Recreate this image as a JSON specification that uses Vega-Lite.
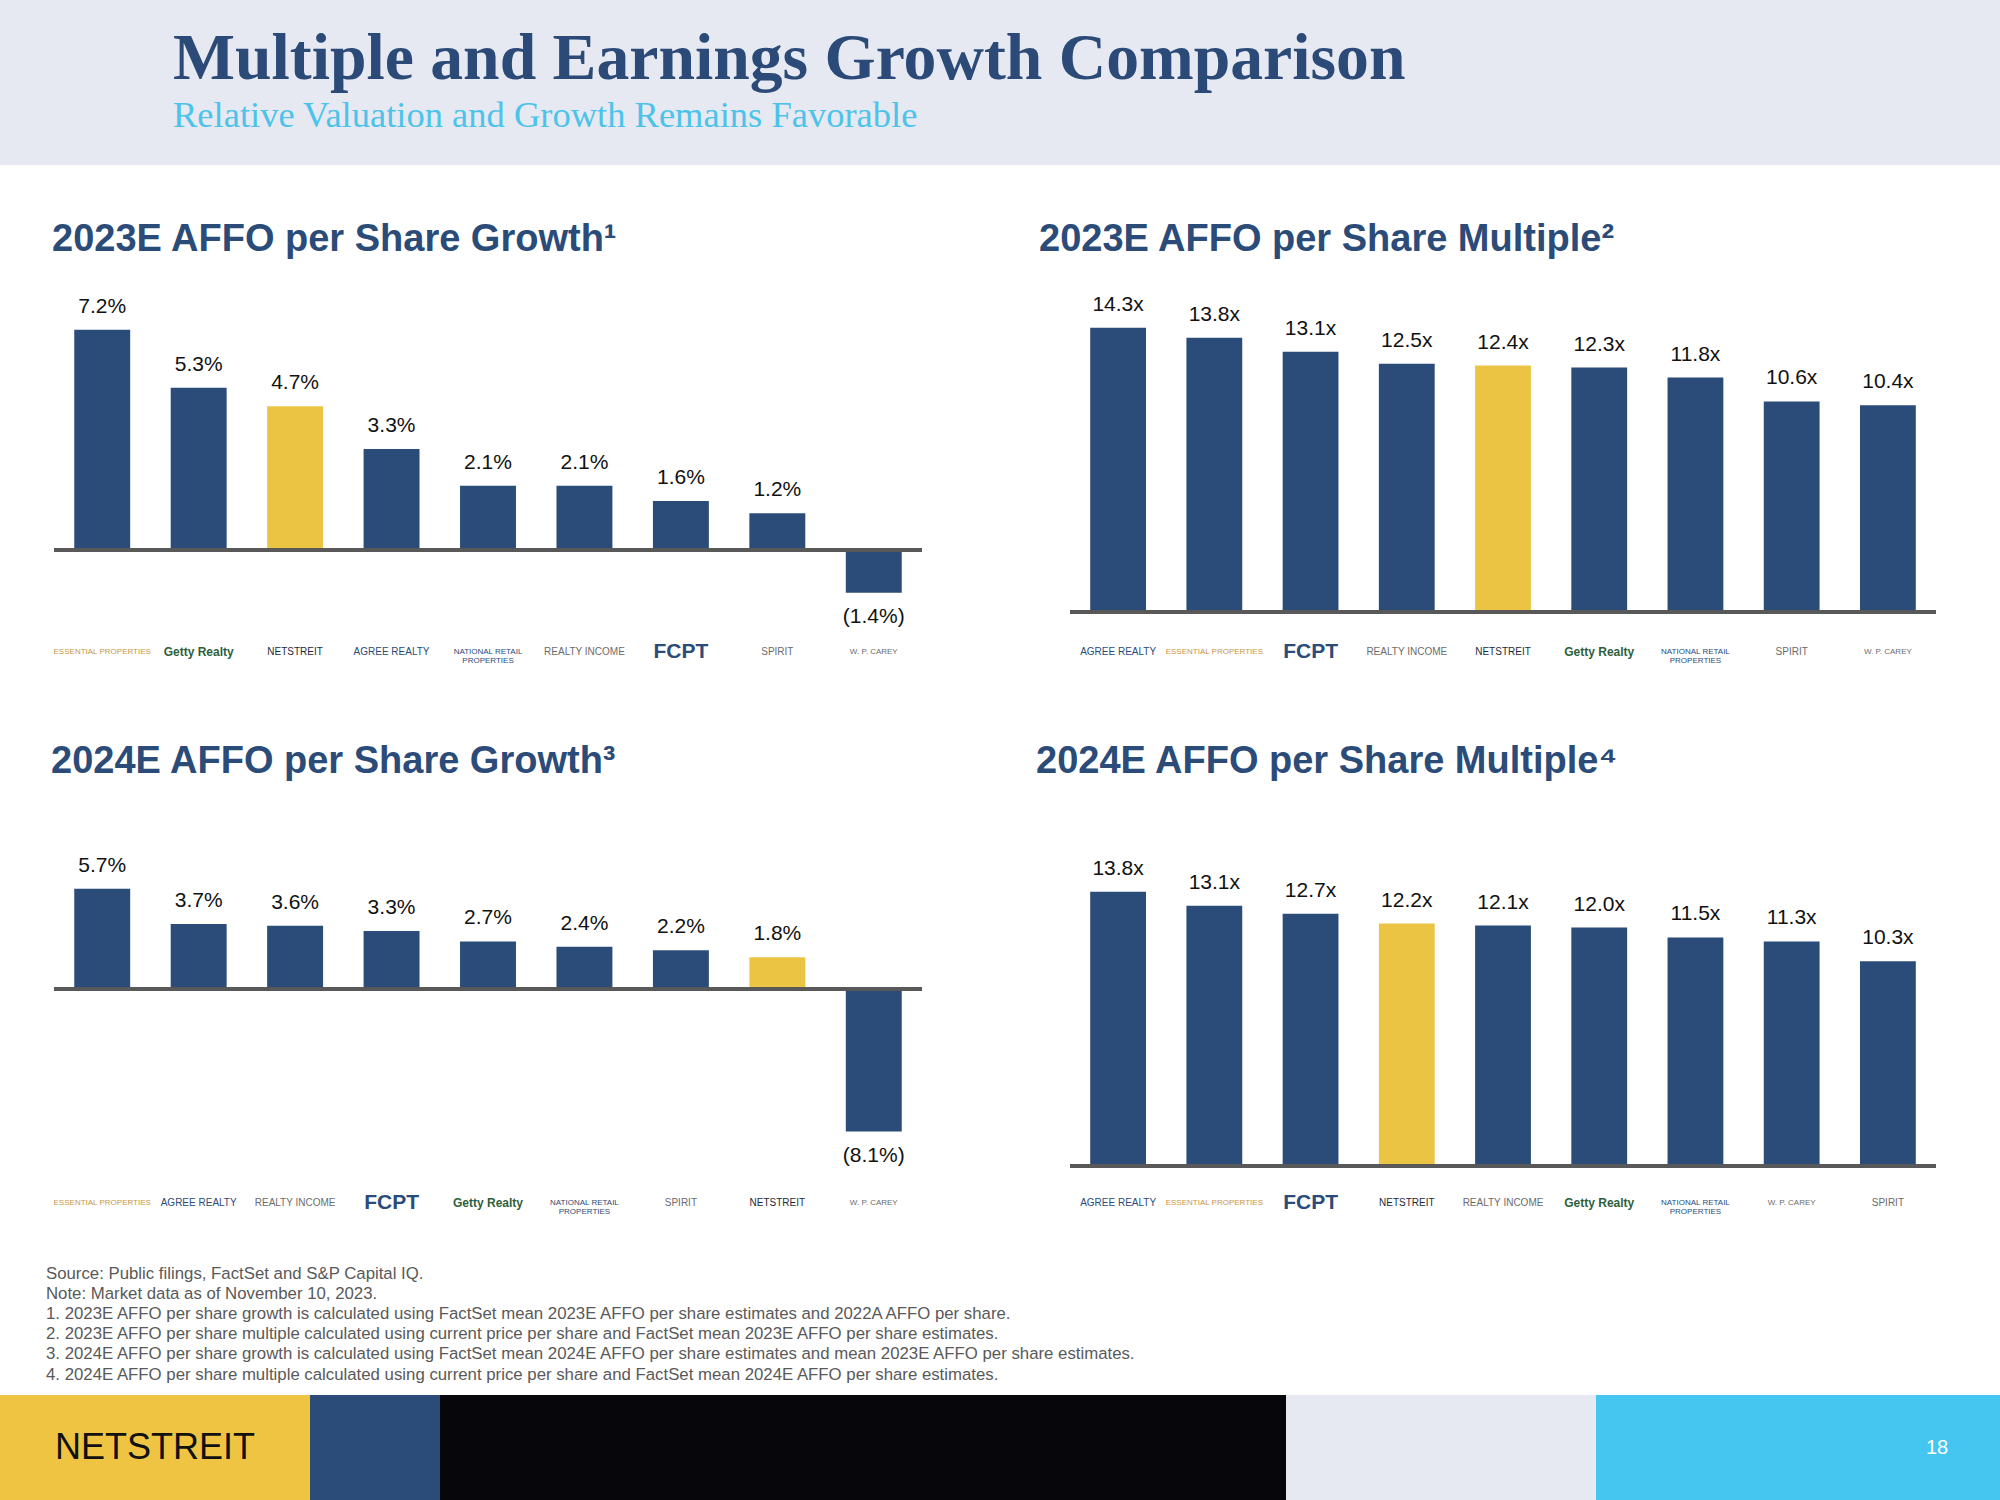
{
  "$schema": "https://vega.github.io/schema/vega-lite/v6.json",
  "background": "white",
  "padding": 0,
  "config": {"view": {"stroke": null}, "font": "Liberation Sans"},
  "datasets": {
    "g23": [
      {"company": "ESSENTIAL PROPERTIES", "value": 0.072},
      {"company": "Getty Realty", "value": 0.053},
      {"company": "NETSTREIT", "value": 0.047},
      {"company": "AGREE REALTY", "value": 0.033},
      {"company": "NATIONAL RETAIL PROPERTIES", "value": 0.021},
      {"company": "REALTY INCOME", "value": 0.021},
      {"company": "FCPT", "value": 0.016},
      {"company": "SPIRIT", "value": 0.012},
      {"company": "W. P. CAREY", "value": -0.014}
    ],
    "g24": [
      {"company": "ESSENTIAL PROPERTIES", "value": 0.057},
      {"company": "AGREE REALTY", "value": 0.037},
      {"company": "REALTY INCOME", "value": 0.036},
      {"company": "FCPT", "value": 0.033},
      {"company": "Getty Realty", "value": 0.027},
      {"company": "NATIONAL RETAIL PROPERTIES", "value": 0.024},
      {"company": "SPIRIT", "value": 0.022},
      {"company": "NETSTREIT", "value": 0.018},
      {"company": "W. P. CAREY", "value": -0.081}
    ],
    "m23": [
      {"company": "AGREE REALTY", "value": 14.3},
      {"company": "ESSENTIAL PROPERTIES", "value": 13.8},
      {"company": "FCPT", "value": 13.1},
      {"company": "REALTY INCOME", "value": 12.5},
      {"company": "NETSTREIT", "value": 12.4},
      {"company": "Getty Realty", "value": 12.3},
      {"company": "NATIONAL RETAIL PROPERTIES", "value": 11.8},
      {"company": "SPIRIT", "value": 10.6},
      {"company": "W. P. CAREY", "value": 10.4}
    ],
    "m24": [
      {"company": "AGREE REALTY", "value": 13.8},
      {"company": "ESSENTIAL PROPERTIES", "value": 13.1},
      {"company": "FCPT", "value": 12.7},
      {"company": "NETSTREIT", "value": 12.2},
      {"company": "REALTY INCOME", "value": 12.1},
      {"company": "Getty Realty", "value": 12.0},
      {"company": "NATIONAL RETAIL PROPERTIES", "value": 11.5},
      {"company": "W. P. CAREY", "value": 11.3},
      {"company": "SPIRIT", "value": 10.3}
    ]
  },
  "vconcat": [
    {
      "width": 2000, "height": 165,
      "view": {"fill": "#e6e9f1", "stroke": null},
      "title": {
        "text": "Multiple and Earnings Growth Comparison",
        "subtitle": "Relative Valuation and Growth Remains Favorable",
        "anchor": "start", "frame": "group", "orient": "top", "offset": -135, "dx": 173,
        "font": "Liberation Serif", "fontSize": 65.7, "fontWeight": "bold", "color": "#2b4a78",
        "subtitleFont": "Liberation Serif", "subtitleFontSize": 36.5, "subtitleFontWeight": "normal",
        "subtitleColor": "#4cc3ea", "subtitlePadding": 5
      },
      "data": {"values": [{}]},
      "mark": {"type": "text", "text": ""}
    },
    {
      "title": {
        "text": [
          "Source: Public filings, FactSet and S&P Capital IQ.",
          "Note: Market data as of November 10, 2023.",
          "1.  2023E AFFO per share growth is calculated using FactSet mean 2023E AFFO per share estimates and 2022A AFFO per share.",
          "2.  2023E AFFO per share multiple calculated using current price per share and FactSet mean 2023E AFFO per share estimates.",
          "3.  2024E AFFO per share growth is calculated using FactSet mean 2024E AFFO per share estimates and mean 2023E AFFO per share estimates.",
          "4.  2024E AFFO per share multiple calculated using current price per share and FactSet mean 2024E AFFO per share estimates."
        ],
        "anchor": "start", "frame": "group", "orient": "top", "offset": -1218.5, "dx": 46,
        "font": "Liberation Sans", "fontSize": 16.8, "fontWeight": "normal", "color": "#595959", "lineHeight": 20.2
      },
      "hconcat": [
        {"width": 51, "height": 20, "data": {"values": [{}]}, "mark": {"type": "text", "text": ""}},
        {
          "vconcat": [
            {"width": 868, "height": 115, "data": {"values": [{}]}, "mark": {"type": "text", "text": ""}},
            {
              "width": 868, "height": 340,
              "title": {"text": "2023E AFFO per Share Growth¹", "anchor": "start", "frame": "group", "orient": "top", "offset": 21, "dx": -2, "font": "Liberation Sans", "fontSize": 38, "fontWeight": "bold", "color": "#2b4b78"},
              "data": {"name": "g23"},
              "encoding": {
                "x": {"field": "company", "type": "nominal", "sort": null, "scale": {"paddingInner": 0.42, "paddingOuter": 0.21}, "axis": null},
                "y": {"field": "value", "type": "quantitative", "scale": {"domain": [-0.022876, 0.088235], "nice": false, "zero": false}, "axis": null}
              },
              "layer": [
                {"mark": {"type": "bar"},
                 "encoding": {"color": {"condition": {"test": "datum.company === 'NETSTREIT'", "value": "#ecc444"}, "value": "#2b4b78"}}},
                {"transform": [{"filter": "datum.value >= 0"}],
                 "mark": {"type": "text", "baseline": "middle", "dy": -23, "fontSize": 21, "color": "#111111"},
                 "encoding": {"text": {"field": "value", "type": "quantitative", "format": "(.1%"}}},
                {"transform": [{"filter": "datum.value < 0"}],
                 "mark": {"type": "text", "baseline": "middle", "dy": 24, "fontSize": 21, "color": "#111111"},
                 "encoding": {"text": {"field": "value", "type": "quantitative", "format": "(.1%"}}},
                {"mark": {"type": "text", "baseline": "middle", "align": "center", "lineHeight": 9,
                   "fontWeight": {"expr": "datum.company === 'FCPT' || datum.company === 'Getty Realty' ? 'bold' : 'normal'"},
                   "text": {"expr": "datum.company === 'NATIONAL RETAIL PROPERTIES' ? ['NATIONAL RETAIL', 'PROPERTIES'] : datum.company"}},
                 "encoding": {
                   "y": {"datum": -0.033333, "type": "quantitative", "axis": null},
                   "color": {"condition": [{"test": "datum.company === 'ESSENTIAL PROPERTIES'", "value": "#c9973f"}, {"test": "datum.company === 'Getty Realty'", "value": "#2d5f3b"}, {"test": "indexof(['AGREE REALTY','NATIONAL RETAIL PROPERTIES','FCPT'], datum.company) >= 0", "value": "#2b4b78"}, {"test": "datum.company === 'NETSTREIT'", "value": "#1e2a3a"}], "value": "#6b6b6b"},
                   "size": {"condition": [{"test": "datum.company === 'FCPT'", "value": 21}, {"test": "datum.company === 'Getty Realty'", "value": 12}, {"test": "indexof(['ESSENTIAL PROPERTIES','NATIONAL RETAIL PROPERTIES','W. P. CAREY'], datum.company) >= 0", "value": 8}], "value": 10}
                 }},
                {"mark": {"type": "rule", "color": "#595959", "strokeWidth": 3},
                 "encoding": {"x": null, "y": {"datum": 0, "type": "quantitative", "axis": null}}}
              ]
            },
            {"width": 868, "height": 182, "data": {"values": [{}]}, "mark": {"type": "text", "text": ""}},
            {
              "width": 868, "height": 368,
              "title": {"text": "2024E AFFO per Share Growth³", "anchor": "start", "frame": "group", "orient": "top", "offset": 21, "dx": -3, "font": "Liberation Sans", "fontSize": 38, "fontWeight": "bold", "color": "#2b4b78"},
              "data": {"name": "g24"},
              "encoding": {
                "x": {"field": "company", "type": "nominal", "sort": null, "scale": {"paddingInner": 0.42, "paddingOuter": 0.21}, "axis": null},
                "y": {"field": "value", "type": "quantitative", "scale": {"domain": [-0.102841, 0.10625], "nice": false, "zero": false}, "axis": null}
              },
              "layer": [
                {"mark": {"type": "bar"},
                 "encoding": {"color": {"condition": {"test": "datum.company === 'NETSTREIT'", "value": "#ecc444"}, "value": "#2b4b78"}}},
                {"transform": [{"filter": "datum.value >= 0"}],
                 "mark": {"type": "text", "baseline": "middle", "dy": -23, "fontSize": 21, "color": "#111111"},
                 "encoding": {"text": {"field": "value", "type": "quantitative", "format": "(.1%"}}},
                {"transform": [{"filter": "datum.value < 0"}],
                 "mark": {"type": "text", "baseline": "middle", "dy": 24, "fontSize": 21, "color": "#111111"},
                 "encoding": {"text": {"field": "value", "type": "quantitative", "format": "(.1%"}}},
                {"mark": {"type": "text", "baseline": "middle", "align": "center", "lineHeight": 9,
                   "fontWeight": {"expr": "datum.company === 'FCPT' || datum.company === 'Getty Realty' ? 'bold' : 'normal'"},
                   "text": {"expr": "datum.company === 'NATIONAL RETAIL PROPERTIES' ? ['NATIONAL RETAIL', 'PROPERTIES'] : datum.company"}},
                 "encoding": {
                   "y": {"datum": -0.121591, "type": "quantitative", "axis": null},
                   "color": {"condition": [{"test": "datum.company === 'ESSENTIAL PROPERTIES'", "value": "#c9973f"}, {"test": "datum.company === 'Getty Realty'", "value": "#2d5f3b"}, {"test": "indexof(['AGREE REALTY','NATIONAL RETAIL PROPERTIES','FCPT'], datum.company) >= 0", "value": "#2b4b78"}, {"test": "datum.company === 'NETSTREIT'", "value": "#1e2a3a"}], "value": "#6b6b6b"},
                   "size": {"condition": [{"test": "datum.company === 'FCPT'", "value": 21}, {"test": "datum.company === 'Getty Realty'", "value": 12}, {"test": "indexof(['ESSENTIAL PROPERTIES','NATIONAL RETAIL PROPERTIES','W. P. CAREY'], datum.company) >= 0", "value": 8}], "value": 10}
                 }},
                {"mark": {"type": "rule", "color": "#595959", "strokeWidth": 3},
                 "encoding": {"x": null, "y": {"datum": 0, "type": "quantitative", "axis": null}}}
              ]
            },
            {"width": 868, "height": 225, "data": {"values": [{}]}, "mark": {"type": "text", "text": ""}}
          ],
          "spacing": 0, "bounds": "flush", "align": "each"
        },
        {"width": 112, "height": 20, "data": {"values": [{}]}, "mark": {"type": "text", "text": ""}},
        {
          "vconcat": [
            {"width": 866, "height": 115, "data": {"values": [{}]}, "mark": {"type": "text", "text": ""}},
            {
              "width": 866, "height": 340,
              "title": {"text": "2023E AFFO per Share Multiple²", "anchor": "start", "frame": "group", "orient": "top", "offset": 21, "dx": -31, "font": "Liberation Sans", "fontSize": 38, "fontWeight": "bold", "color": "#2b4b78"},
              "data": {"name": "m23"},
              "encoding": {
                "x": {"field": "company", "type": "nominal", "sort": null, "scale": {"paddingInner": 0.42, "paddingOuter": 0.21}, "axis": null},
                "y": {"field": "value", "type": "quantitative", "scale": {"domain": [-0.4026, 16.709], "nice": false, "zero": false}, "axis": null}
              },
              "layer": [
                {"mark": {"type": "bar"},
                 "encoding": {"color": {"condition": {"test": "datum.company === 'NETSTREIT'", "value": "#ecc444"}, "value": "#2b4b78"}}},
                {"mark": {"type": "text", "baseline": "middle", "dy": -23, "fontSize": 21, "color": "#111111", "text": {"expr": "format(datum.value, '.1f') + 'x'"}}},
                {"mark": {"type": "text", "baseline": "middle", "align": "center", "lineHeight": 9,
                   "fontWeight": {"expr": "datum.company === 'FCPT' || datum.company === 'Getty Realty' ? 'bold' : 'normal'"},
                   "text": {"expr": "datum.company === 'NATIONAL RETAIL PROPERTIES' ? ['NATIONAL RETAIL', 'PROPERTIES'] : datum.company"}},
                 "encoding": {
                   "y": {"datum": -2.0131, "type": "quantitative", "axis": null},
                   "color": {"condition": [{"test": "datum.company === 'ESSENTIAL PROPERTIES'", "value": "#c9973f"}, {"test": "datum.company === 'Getty Realty'", "value": "#2d5f3b"}, {"test": "indexof(['AGREE REALTY','NATIONAL RETAIL PROPERTIES','FCPT'], datum.company) >= 0", "value": "#2b4b78"}, {"test": "datum.company === 'NETSTREIT'", "value": "#1e2a3a"}], "value": "#6b6b6b"},
                   "size": {"condition": [{"test": "datum.company === 'FCPT'", "value": 21}, {"test": "datum.company === 'Getty Realty'", "value": 12}, {"test": "indexof(['ESSENTIAL PROPERTIES','NATIONAL RETAIL PROPERTIES','W. P. CAREY'], datum.company) >= 0", "value": 8}], "value": 10}
                 }},
                {"mark": {"type": "rule", "color": "#595959", "strokeWidth": 3},
                 "encoding": {"x": null, "y": {"datum": 0, "type": "quantitative", "axis": null}}}
              ]
            },
            {"width": 866, "height": 182, "data": {"values": [{}]}, "mark": {"type": "text", "text": ""}},
            {
              "width": 866, "height": 368,
              "title": {"text": "2024E AFFO per Share Multiple⁴", "anchor": "start", "frame": "group", "orient": "top", "offset": 21, "dx": -34, "font": "Liberation Sans", "fontSize": 38, "fontWeight": "bold", "color": "#2b4b78"},
              "data": {"name": "m24"},
              "encoding": {
                "x": {"field": "company", "type": "nominal", "sort": null, "scale": {"paddingInner": 0.42, "paddingOuter": 0.21}, "axis": null},
                "y": {"field": "value", "type": "quantitative", "scale": {"domain": [-0.2013, 18.319], "nice": false, "zero": false}, "axis": null}
              },
              "layer": [
                {"mark": {"type": "bar"},
                 "encoding": {"color": {"condition": {"test": "datum.company === 'NETSTREIT'", "value": "#ecc444"}, "value": "#2b4b78"}}},
                {"mark": {"type": "text", "baseline": "middle", "dy": -23, "fontSize": 21, "color": "#111111", "text": {"expr": "format(datum.value, '.1f') + 'x'"}}},
                {"mark": {"type": "text", "baseline": "middle", "align": "center", "lineHeight": 9,
                   "fontWeight": {"expr": "datum.company === 'FCPT' || datum.company === 'Getty Realty' ? 'bold' : 'normal'"},
                   "text": {"expr": "datum.company === 'NATIONAL RETAIL PROPERTIES' ? ['NATIONAL RETAIL', 'PROPERTIES'] : datum.company"}},
                 "encoding": {
                   "y": {"datum": -1.8621, "type": "quantitative", "axis": null},
                   "color": {"condition": [{"test": "datum.company === 'ESSENTIAL PROPERTIES'", "value": "#c9973f"}, {"test": "datum.company === 'Getty Realty'", "value": "#2d5f3b"}, {"test": "indexof(['AGREE REALTY','NATIONAL RETAIL PROPERTIES','FCPT'], datum.company) >= 0", "value": "#2b4b78"}, {"test": "datum.company === 'NETSTREIT'", "value": "#1e2a3a"}], "value": "#6b6b6b"},
                   "size": {"condition": [{"test": "datum.company === 'FCPT'", "value": 21}, {"test": "datum.company === 'Getty Realty'", "value": 12}, {"test": "indexof(['ESSENTIAL PROPERTIES','NATIONAL RETAIL PROPERTIES','W. P. CAREY'], datum.company) >= 0", "value": 8}], "value": 10}
                 }},
                {"mark": {"type": "rule", "color": "#595959", "strokeWidth": 3},
                 "encoding": {"x": null, "y": {"datum": 0, "type": "quantitative", "axis": null}}}
              ]
            },
            {"width": 866, "height": 225, "data": {"values": [{}]}, "mark": {"type": "text", "text": ""}}
          ],
          "spacing": 0, "bounds": "flush", "align": "each"
        },
        {"width": 63, "height": 20, "data": {"values": [{}]}, "mark": {"type": "text", "text": ""}}
      ],
      "spacing": 0, "bounds": "full", "align": "each"
    },
    {
      "hconcat": [
        {"width": 310, "height": 105, "view": {"fill": "#efc443", "stroke": null}, "data": {"values": [{}]},
         "mark": {"type": "text", "text": "NETSTREIT", "font": "Liberation Sans", "fontSize": 36, "color": "#111111", "align": "center", "baseline": "middle"}},
        {"width": 130, "height": 105, "view": {"fill": "#2b4b78", "stroke": null}, "data": {"values": [{}]}, "mark": {"type": "text", "text": ""}},
        {"width": 846, "height": 105, "view": {"fill": "#06060b", "stroke": null}, "data": {"values": [{}]}, "mark": {"type": "text", "text": ""}},
        {"width": 310, "height": 105, "view": {"fill": "#e6e9f1", "stroke": null}, "data": {"values": [{}]}, "mark": {"type": "text", "text": ""}},
        {"width": 278, "height": 105, "view": {"fill": "#45c6f0", "stroke": null}, "data": {"values": [{}]}, "mark": {"type": "text", "text": ""}},
        {"width": 126, "height": 105, "view": {"fill": "#45c6f0", "stroke": null}, "data": {"values": [{}]},
         "mark": {"type": "text", "text": "18", "font": "Liberation Sans", "fontSize": 20, "color": "#ffffff", "align": "center", "baseline": "middle"}}
      ],
      "spacing": 0, "bounds": "flush", "align": "each"
    }
  ],
  "spacing": 0, "bounds": "full", "align": "each"
}
